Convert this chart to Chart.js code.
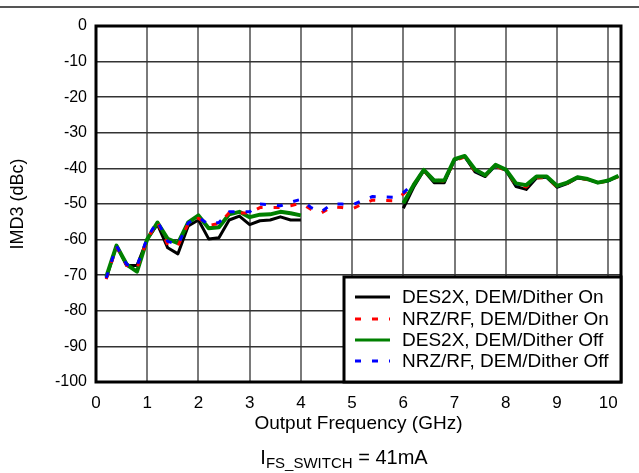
<!DOCTYPE html>
<html>
<head>
<meta charset="utf-8">
<script src="https://cdn.jsdelivr.net/npm/chart.js@4"></script>
<style>
  html, body { margin: 0; padding: 0; background: #fff; }
  #wrap { width: 639px; height: 473px; position: relative; }
</style>
</head>
<body>
<div id="wrap"><canvas id="imd3_chart" width="639" height="473"></canvas></div>
<script>
// output frequency (GHz)
var freq = [0.2, 0.4, 0.6, 0.8, 1.0, 1.2, 1.4, 1.6, 1.8, 2.0,
            2.2, 2.4, 2.6, 2.8, 3.0, 3.2, 3.4, 3.6, 3.8, 4.0,
            4.2, 4.4, 4.6, 4.8, 5.0, 5.2, 5.4, 5.6, 5.8, 6.0,
            6.2, 6.4, 6.6, 6.8, 7.0, 7.2, 7.4, 7.6, 7.8, 8.0,
            8.2, 8.4, 8.6, 8.8, 9.0, 9.2, 9.4, 9.6, 9.8, 10.0, 10.2];

// IMD3 (dBc)
var des2xOn = [-70.9, -61.7, -67.3, -67.3, -59.9, -55.7, -62.3, -64.0, -56.2, -54.5,
               -59.8, -59.5, -54.5, -53.4, -55.8, -54.7, -54.5, -53.6, -54.5, -54.5,
               null, null, null, null, null, null, null, null, null, -51.2,
               -45.3, -40.6, -44.0, -44.0, -37.6, -36.7, -41.0, -42.3, -39.2, -40.5,
               -45.1, -45.9, -42.7, -42.5, -45.3, -44.3, -42.7, -43.1, -44.0, -43.5, -42.2];

var nrzOn = [-71.1, -62.0, -67.3, -68.0, -60.0, -55.0, -61.5, -61.8, -55.5, -54.0,
             -56.0, -55.5, -52.5, -52.5, -52.5, -51.0, -51.0, -51.0, -50.5, -49.8,
             -51.5, -52.5, -50.8, -51.0, -51.4, -50.0, -48.9, -49.0, -49.1, -47.2,
             -44.5, -40.8, -43.2, -43.6, -37.8, -36.8, -40.8, -42.0, -39.4, -40.6,
             -44.6, -45.2, -42.6, -42.6, -45.2, -44.2, -42.6, -43.2, -44.0, -43.6, -42.3];

var des2xOff = [-70.5, -61.7, -67.0, -69.0, -59.9, -55.2, -59.8, -61.0, -55.2, -53.2,
                -56.8, -56.5, -52.9, -52.2, -53.7, -53.0, -52.9, -52.2, -52.6, -53.2,
                null, null, null, null, null, null, null, null, null, -49.8,
                -44.7, -40.4, -43.4, -43.4, -37.4, -36.5, -40.3, -41.9, -39.0, -40.3,
                -44.2, -44.7, -42.3, -42.3, -44.9, -44.0, -42.5, -43.0, -44.0, -43.4, -42.1];

var nrzOff = [-70.8, -61.8, -67.0, -67.5, -59.5, -54.8, -60.5, -61.4, -55.3, -53.8,
              -55.7, -55.2, -52.2, -52.2, -52.2, -50.0, -50.2, -50.5, -49.5, -48.7,
              -51.0, -52.2, -50.0, -50.0, -50.3, -49.0, -47.9, -48.0, -48.1, -46.8,
              -44.3, -40.5, -43.3, -43.4, -37.5, -36.6, -40.5, -42.0, -39.1, -40.4,
              -44.3, -44.9, -42.4, -42.4, -45.0, -44.1, -42.5, -43.1, -44.0, -43.5, -42.2];

var xTicks = [0, 1, 2, 3, 4, 5, 6, 7, 8, 9, 10];

// above this frequency the NRZ traces sit under the green trace
var splitFreq = 6.2;

function toPoints(xs, ys, from, to) {
  var pts = [];
  for (var i = 0; i < xs.length; i++) {
    if (xs[i] < from || xs[i] > to) continue;
    pts.push({x: xs[i], y: ys[i]});
  }
  return pts;
}

var FONT = "'Liberation Sans', Arial, sans-serif";

var framePlugin = {
  id: "frame",
  beforeDraw: function(chart) {
    var ctx = chart.ctx;
    ctx.save();
    ctx.strokeStyle = "#555";
    ctx.lineWidth = 2;
    ctx.beginPath();
    ctx.moveTo(0, 7);
    ctx.lineTo(chart.width, 7);
    ctx.stroke();
    ctx.restore();
  },
  afterDraw: function(chart) {
    var ctx = chart.ctx;
    var a = chart.chartArea;
    ctx.save();
    ctx.strokeStyle = "#000";
    ctx.lineWidth = 3;
    ctx.strokeRect(a.left, a.top, a.right - a.left, a.bottom - a.top);

    // legend box
    var bx = 344, by = 277, bw = a.right - bx, bh = a.bottom - by;
    ctx.fillStyle = "#fff";
    ctx.fillRect(bx, by, bw, bh);
    ctx.strokeRect(bx, by, bw, bh);
    ctx.font = "19px " + FONT;
    ctx.textBaseline = "middle";
    ctx.textAlign = "left";
    var rowY = [297, 319, 340, 361];
    var row = 0;
    chart.data.datasets.forEach(function(ds) {
      if (!ds.label) return;
      var y = rowY[row++];
      ctx.beginPath();
      ctx.strokeStyle = ds.borderColor;
      ctx.lineWidth = 3;
      ctx.setLineDash(ds.borderDash || []);
      ctx.moveTo(355, y);
      ctx.lineTo(390, y);
      ctx.stroke();
      ctx.setLineDash([]);
      ctx.fillStyle = "#000";
      ctx.fillText(ds.label, 402, y + 1);
    });

    // footer: I_FS_SWITCH = 41mA
    var main = "20px " + FONT, sub = "15px " + FONT;
    ctx.font = main; var w1 = ctx.measureText("I").width;
    ctx.font = sub; var w2 = ctx.measureText("FS_SWITCH").width;
    ctx.font = main; var w3 = ctx.measureText(" = 41mA").width;
    var x = 344 - (w1 + w2 + w3) / 2, fy = 457;
    ctx.textBaseline = "alphabetic";
    ctx.font = main; ctx.fillText("I", x, fy + 7);
    ctx.font = sub; ctx.fillText("FS_SWITCH", x + w1, fy + 11);
    ctx.font = main; ctx.fillText(" = 41mA", x + w1 + w2, fy + 7);
    ctx.restore();
  }
};

var ctx = document.getElementById("imd3_chart").getContext("2d");
var imd3Chart = new Chart(ctx, {
  type: "line",
  data: {
    datasets: [
      { label: "DES2X, DEM/Dither On", data: toPoints(freq, des2xOn, 0, 11), borderColor: "#000000", borderWidth: 3, order: 6 },
      { label: "NRZ/RF, DEM/Dither On", data: toPoints(freq, nrzOn, 0, splitFreq), borderColor: "#ff0000", borderWidth: 3, borderDash: [6, 11], order: 2 },
      { label: "DES2X, DEM/Dither Off", data: toPoints(freq, des2xOff, 0, 11), borderColor: "#008000", borderWidth: 4, order: 3 },
      { label: "NRZ/RF, DEM/Dither Off", data: toPoints(freq, nrzOff, 0, splitFreq), borderColor: "#0000ff", borderWidth: 3, borderDash: [6, 11], order: 1 },
      { label: "", data: toPoints(freq, nrzOn, splitFreq, 11), borderColor: "#ff0000", borderWidth: 3, borderDash: [6, 11], order: 5 },
      { label: "", data: toPoints(freq, nrzOff, splitFreq, 11), borderColor: "#0000ff", borderWidth: 3, borderDash: [6, 11], borderDashOffset: 8, order: 4 }
    ]
  },
  options: {
    responsive: false,
    animation: false,
    spanGaps: false,
    elements: { point: { radius: 0 }, line: { tension: 0, borderCapStyle: "butt", borderJoinStyle: "round" } },
    layout: { padding: { left: 0, right: 18, top: 26, bottom: 38 } },
    plugins: { legend: { display: false }, tooltip: { enabled: false } },
    scales: {
      x: {
        type: "linear",
        min: 0,
        max: 10.25,
        afterBuildTicks: function(scale) {
          scale.ticks = xTicks.map(function(v) { return {value: v}; });
        },
        afterFit: function(scale) { scale.height = 53; },
        grid: { color: "#7a7a7a", lineWidth: 2, drawTicks: false },
        border: { display: false },
        ticks: { color: "#000", font: { family: FONT, size: 17 }, padding: 11, maxRotation: 0 },
        title: { display: true, text: "Output Frequency (GHz)", color: "#000", font: { family: FONT, size: 19 }, padding: { top: 0, bottom: 0 } }
      },
      y: {
        min: -100,
        max: 0,
        afterFit: function(scale) { scale.width = 96; },
        grid: { color: "#333", lineWidth: 1.5, drawTicks: false },
        border: { display: false },
        ticks: { stepSize: 10, color: "#000", font: { family: FONT, size: 16 }, padding: 9 },
        title: { display: true, text: "IMD3 (dBc)", color: "#000", font: { family: FONT, size: 18 }, padding: { top: 7, bottom: 0 } }
      }
    }
  },
  plugins: [framePlugin]
});
</script>
</body>
</html>
